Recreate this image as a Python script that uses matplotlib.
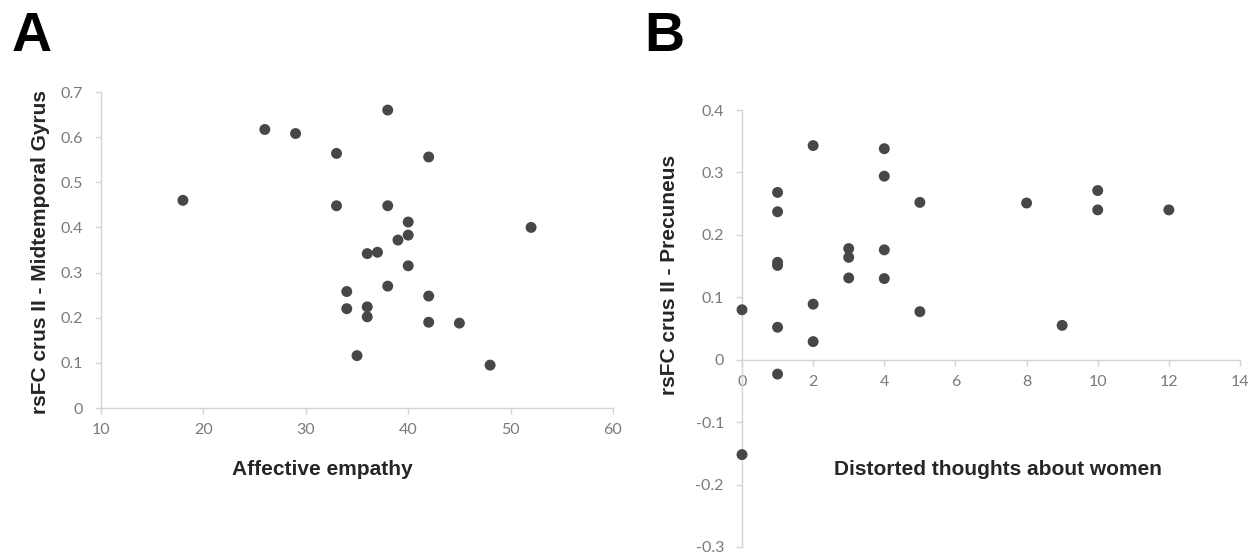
import matplotlib
matplotlib.use("Agg")
import matplotlib.pyplot as plt
from matplotlib.ticker import FuncFormatter

# Panel A: affective empathy vs. crus II - midtemporal gyrus connectivity
empathy = [18, 26, 29, 33, 33, 38, 42, 38, 40, 40, 39, 36, 37, 40, 52,
           34, 38, 42, 34, 36, 36, 42, 45, 35, 48]
mtg_fc = [0.460, 0.617, 0.608, 0.564, 0.448, 0.660, 0.556, 0.448, 0.412,
          0.383, 0.372, 0.342, 0.345, 0.315, 0.400, 0.258, 0.270, 0.248,
          0.220, 0.224, 0.202, 0.190, 0.188, 0.116, 0.095]

# Panel B: distorted thoughts about women vs. crus II - precuneus connectivity
distorted = [0, 0, 1, 1, 1, 1, 1, 1, 2, 2, 2, 3, 3, 3, 4, 4, 4, 4, 5, 5,
             8, 9, 10, 10, 12]
prec_fc = [0.080, -0.152, 0.268, 0.237, 0.156, 0.151, 0.052, -0.023, 0.343,
           0.089, 0.029, 0.178, 0.164, 0.131, 0.338, 0.294, 0.176, 0.130,
           0.252, 0.077, 0.251, 0.055, 0.271, 0.240, 0.240]

xticks_a = [10, 20, 30, 40, 50, 60]
yticks_a = [0, 0.1, 0.2, 0.3, 0.4, 0.5, 0.6, 0.7]
xticks_b = [0, 2, 4, 6, 8, 10, 12, 14]
yticks_b = [-0.3, -0.2, -0.1, 0, 0.1, 0.2, 0.3, 0.4]

plt.rcParams["axes.unicode_minus"] = False

W, H = 1260, 555
fig = plt.figure(figsize=(W / 100, H / 100), dpi=100)
fig.patch.set_facecolor("white")

AXIS_COLOR = "#d4d4d4"
TICK_TEXT = "#7a7a7a"
LABEL_COLOR = "#262626"
DOT_COLOR = "#474747"
label_font = dict(family="Liberation Sans", weight="bold", size=15,
                  color=LABEL_COLOR)
fmt = FuncFormatter(lambda v, p: f"{v:g}")


def style_axes(ax):
    for side in ("top", "right"):
        ax.spines[side].set_visible(False)
    for side in ("left", "bottom"):
        ax.spines[side].set_color(AXIS_COLOR)
        ax.spines[side].set_linewidth(1.0)
    ax.tick_params(axis="both", direction="out", length=4, width=1.0,
                   color=AXIS_COLOR, labelcolor=TICK_TEXT, labelsize=11.5)
    ax.tick_params(axis="y", pad=9)
    ax.tick_params(axis="x", pad=7)
    ax.xaxis.set_major_formatter(fmt)
    ax.yaxis.set_major_formatter(fmt)
    for t in ax.get_xticklabels() + ax.get_yticklabels():
        t.set_fontfamily("Lato")


def place_labels(ax, xlab, ylab, xpos, ypos):
    ax.set_xlabel(xlab, **label_font)
    ax.set_ylabel(ylab, **label_font)
    ax.xaxis.label.set_va("center")
    ax.yaxis.label.set_va("center")
    ax.xaxis.set_label_coords(*xpos)
    ax.yaxis.set_label_coords(*ypos)


# ---- Panel A ----
axA = fig.add_axes([101 / W, 1 - 408 / H, 512 / W, 316 / H])
axA.scatter(empathy, mtg_fc, s=62, color=DOT_COLOR, edgecolors="none",
            zorder=3, clip_on=False)
axA.set_xlim(10, 60)
axA.set_ylim(0, 0.7)
axA.set_xticks(xticks_a)
axA.set_yticks(yticks_a)
style_axes(axA)
place_labels(axA, "Affective empathy", "rsFC crus II - Midtemporal Gyrus",
             (0.432, -0.196), (-0.119, 0.494))

# ---- Panel B ----
axB = fig.add_axes([742 / W, 1 - 547 / H, 498 / W, 437 / H])
axB.scatter(distorted, prec_fc, s=62, color=DOT_COLOR, edgecolors="none",
            zorder=3, clip_on=False)
axB.set_xlim(0, 14)
axB.set_ylim(-0.3, 0.4)
axB.set_xticks(xticks_b)
axB.set_yticks(yticks_b)
axB.spines["bottom"].set_position(("data", 0))
style_axes(axB)
place_labels(axB, "Distorted thoughts about women", "rsFC crus II - Precuneus",
             (0.514, 0.178), (-0.145, 0.622))

# panel letters
fig.text(12 / W, 1 - 51 / H, "A", family="Liberation Sans", weight="bold",
         size=40, color="black", ha="left", va="baseline")
fig.text(644 / W, 1 - 51 / H, "B", family="Liberation Sans", weight="bold",
         size=40, color="black", ha="left", va="baseline")

fig.savefig("out.png", dpi=100, facecolor="white")
